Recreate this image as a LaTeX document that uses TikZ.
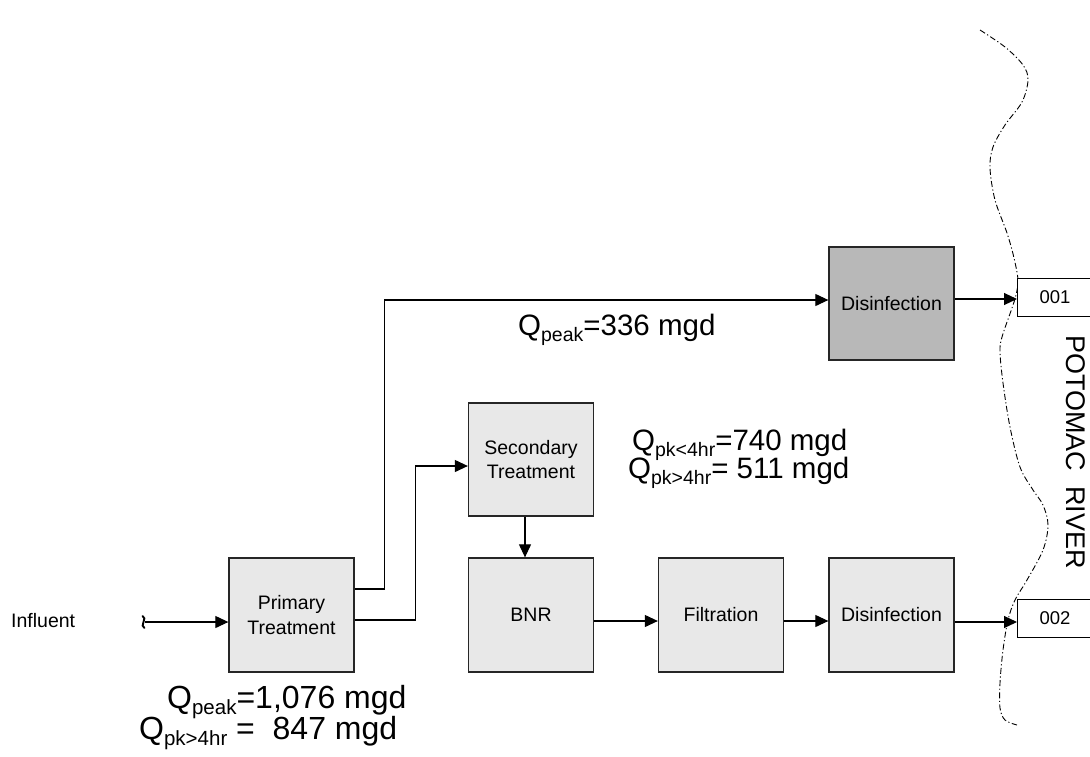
\documentclass[tikz,border=0pt]{standalone}
\usepackage{fontspec}
\setmainfont{Liberation Sans}
\usetikzlibrary{arrows.meta,calc}
\newcommand{\qsb}[1]{Q\raisebox{-6pt}{\fontsize{19.5}{20}\selectfont #1}}
\newcommand{\qsbb}[1]{Q\raisebox{-6.5pt}{\fontsize{20.5}{21}\selectfont #1}}
\begin{document}
\begin{tikzpicture}[x=1pt,y=-1pt,
  proc/.style={draw=black!85, line width=1.3pt, fill={rgb,255:red,232;green,232;blue,232},
    minimum width=125pt, minimum height=114pt, align=center,
    font=\fontsize{19.5}{24.5}\selectfont, inner sep=2pt},
  darkproc/.style={proc, fill={rgb,255:red,184;green,184;blue,184}, minimum height=113pt},
  outbox/.style={draw=black, line width=1pt, fill=white, minimum height=38pt,
    text width=60pt, align=left, inner xsep=22pt, inner ysep=0pt,
    font=\fontsize{18.5}{20}\selectfont},
  lbl/.style={inner sep=0pt, font=\fontsize{29.5}{30}\selectfont},
  biglbl/.style={inner sep=0pt, font=\fontsize{32}{32}\selectfont},
  arr/.style={line width=1.1pt, -{Triangle[length=13pt,width=12pt]}},
  river/.style={line width=0.9pt, dash pattern=on 6pt off 2.5pt on 1.2pt off 2.5pt}
]
\useasboundingbox (0,0) rectangle (1090,756);
\fill[white] (0,0) rectangle (1090,756);

% river bank
\draw[river] plot[smooth, tension=0.55] coordinates {
 (980,30) (1005,47) (1023,65) (1028,80) (1022,102) (1005,125) (993,147) (990,168)
 (995,200) (1007,233) (1014,258) (1018,280) (1016,295) (1012,308) (1002,337)
 (1000,352) (1003,383) (1010,427) (1020,467) (1033,490) (1043,505) (1048,525)
 (1043,550) (1027,580) (1015,600) (1008,620) (1003,650) (1000,683) (1000,708)
 (1005,720) (1017,725)};

% process boxes
\node[proc] (prim) at (291.5,615) {Primary\\Treatment};
\node[proc, minimum height=113pt] (sec) at (531,459.5) {Secondary\\Treatment};
\node[proc] (bnr) at (531,615) {BNR};
\node[proc] (filt) at (721,615) {Filtration};
\node[proc] (dis2) at (891.5,615) {Disinfection};
\node[darkproc] (dis1) at (891.5,303.5) {Disinfection};

% outfalls
\node[outbox, anchor=west] (o1) at (1017,297) {001};
\node[outbox, anchor=west] (o2) at (1017,618) {002};

% influent
\node[anchor=base west, inner sep=0pt, font=\fontsize{19.5}{20}\selectfont] (inf) at (11,627) {Influent};
\coordinate (src) at (145,622);
\draw[line width=1.9pt, line cap=round] (142.5,616) .. controls (148,617.5) and (139,626.5) .. (144.5,628);

% connectors
\draw[arr] (src) -- (src -| prim.west);
\draw[arr] ([yshift=26pt]prim.east) -- ++(30,0) |- ([yshift=3.5pt]dis1.west);
\draw[arr] ([yshift=-5pt]prim.east) -- ++(61,0) |- ([yshift=-6.5pt]sec.west);
\draw[arr] ([xshift=-6pt]sec.south) -- ([xshift=-6pt]bnr.north);
\draw[arr] ([yshift=-6pt]bnr.east) -- ([yshift=-6pt]filt.west);
\draw[arr] ([yshift=-6pt]filt.east) -- ([yshift=-6pt]dis2.west);
\draw[arr] ([yshift=-7pt]dis2.east) -- ([yshift=-4pt]o2.west);
\draw[arr] ([yshift=4.5pt]dis1.east) -- ([yshift=-2pt]o1.west);

% flow labels
\node[lbl, anchor=base west] (l336) at (518,335) {\qsb{peak}=336 mgd};
\node[lbl, anchor=base west] (l740) at (632,450) {\qsb{pk<4hr}=740 mgd};
\node[lbl, anchor=base west] (l511) at (628,478) {\qsb{pk>4hr}= 511 mgd};
\node[biglbl, anchor=base west] (l1076) at (167,708) {\qsbb{peak}=1,076 mgd};
\node[biglbl, anchor=base west] (l847) at (139,739) {\qsbb{pk>4hr} =\ \ 847 mgd};

% river name
\node[rotate=-90, inner sep=0pt, font=\fontsize{27}{27}\selectfont] (rivername) at (1076,452) {POTOMAC\ \ RIVER};
\end{tikzpicture}
\end{document}
